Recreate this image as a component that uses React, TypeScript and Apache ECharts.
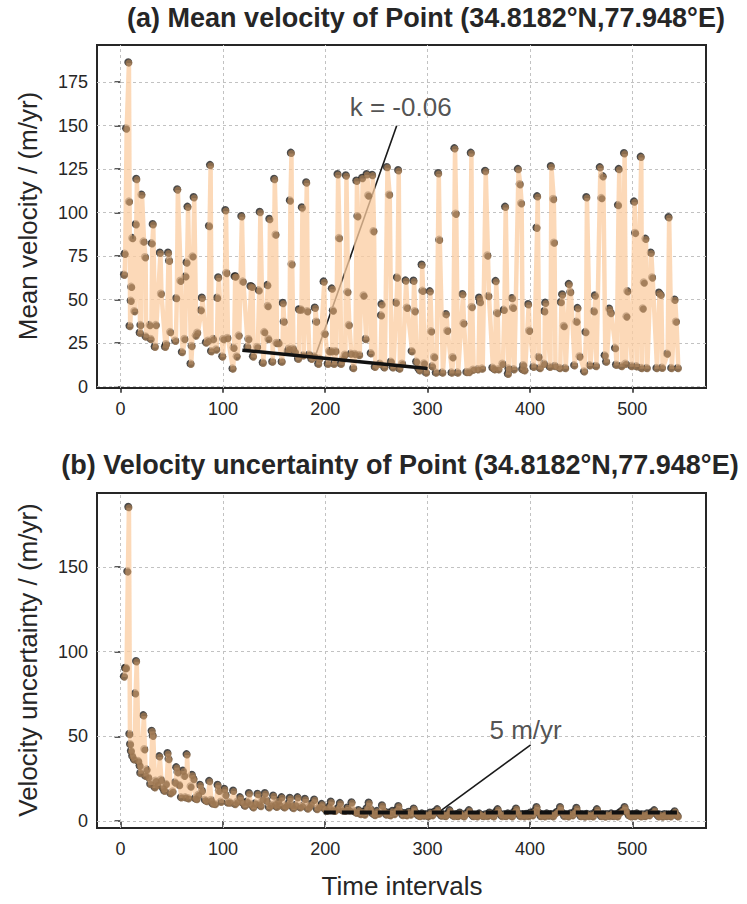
import React, { useEffect, useRef } from "react";
import * as echarts from "echarts";

// ---------- data ----------
const meanVelocity: number[][] = [
  [4,64],[4.6,76],[6,148],[8.2,186],[8.8,106],[9.4,34.5],[10.5,49],[11,57],[12,85],[14,43],[15.4,93],[16,119],[19.3,30.6],[20,35],[21,110],[23,83],[24.5,74],[25,28.5],[29,35],[30,27],[31,82],[32,93],[34,22.6],[35,35],[39,76.6],[40,53],[44,22.6],[45,24],[47,76.6],[48,72],[49,31],[54,26],[55,50.5],[56,113],[59,60.5],[60.5,19.5],[63,27],[64,63],[65,71],[66,103],[69,12.8],[70,23],[71,74.5],[72,108.5],[74,29],[75.5,30.6],[79,43.6],[80,50.7],[84,25],[86,26],[87,92],[88,127],[89,20],[91,27],[94,21],[95,50.7],[96,62.4],[100,17],[101,27],[103,101],[104,65],[105,27.6],[110,10],[111,22],[112,63],[113,63],[114,17],[116,29],[118.6,97.6],[120,60],[124.5,22.4],[125.5,27],[127.5,57.4],[129,57],[130,17],[134,22.4],[135.6,55],[136.6,100],[139.5,13.4],[141,31],[144,58],[144.4,46],[145,27],[146,96],
  [148.8,14],[150.7,119],[152,87],[152.8,24.7],[155,24.7],[158,14],[159,47.7],[160,37],[163.8,20],[165,21.4],[166,106.6],[167,134],[167.7,70],[169,21.4],[171,19.5],[174,15.7],[174.8,44],[176.8,44],[177.7,102.6],[179,17.6],[182,117],[183,43],[184.6,18],[187,15.7],[189.8,17],[190.4,45],[191.7,37],[193.7,12.8],[194.7,15.7],[199,60],[200,30],[203,12.8],[204.4,20],[206.7,20],[207,56],[208,43.4],[209,12.8],[210.6,20],[212.6,121.7],[214,85],[215.8,12.8],[218,15.7],[219.7,18],[220.7,121],[222.3,54],[223.6,35],[225.6,18.6],[227.9,10.3],[229.5,18.4],[231,118],[232,97.6],[233.7,17.8],[236.6,119.6],[238,52],[240,27],[241,121.7],[242.5,109.5],[245,18.8],[246.4,121.3],[247.7,89],[249,11],[254,12.8],[255,40.6],[255.6,47],[258.2,10.7],[260.8,125.8],[263,110],[264.7,14],[266.6,10.7],[269.6,48],[270.6,62.4],[271.8,124],[273,10],[275.7,12.8],[279,60.6],[280.3,45],[285,20],[286.8,60.5],[288,43],[289.4,14],[291.4,10.3],[292.7,9],[294.7,69.7],[295.6,54.7],[297,13],[299,7.7],
  [302.7,54.4],[304,31.4],[305,11.3],[307,16.7],[308.6,7.7],[310.9,122.3],[311.9,84],[315,7.7],[318.4,41.3],[319.7,31.8],[324,7.7],[325,16.5],[326.8,136.6],[328,99],[329.8,7.7],[334.6,52.8],[335.6,36],[338.5,8],[341,8],[342.8,134],[343.7,45.4],[345,9.4],[349.6,9.6],[350.9,50.7],[351.8,48.2],[353.8,10],[356.8,123.6],[359,75],[360,51.7],[363.9,10.5],[365.9,9.6],[367,60.3],[368.5,42],[369.8,9.6],[373.6,12.8],[375,43.8],[376.3,103],[379,7],[379.6,10],[383,50.5],[384,45],[384.8,9.6],[388.8,124.7],[390.6,116],[391.9,105],[393,9.6],[394,12],[395.2,9],[398.8,47],[399.8,31.8],[404,11],[407,91],[407.6,109],[409,16.7],[410.2,10.3],[414.2,12.8],[414.6,43],[415.5,47.8],[420,11],[421,126.3],[423.3,107.5],[424,82.4],[424.9,11.5],[429.6,10.3],[430.7,48.2],[432,52.6],[433.6,34.5],[435,10.3],[438.5,58.6],[440,54],[443.8,11.9],
  [446,37],[447,44.8],[449,17],[453.5,8.4],[454.8,31],[455.7,108.5],[459,11.9],[463,43],[464,52],[465,11.5],[468.8,125.7],[470.4,108],[471.7,120.5],[473.6,17.6],[475,14],[478,44.4],[479.5,42],[483.7,21.8],[484.7,12.2],[486.6,104],[487.3,124.7],[490,11.5],[492.5,133.8],[493.8,12.8],[494.8,40],[495.7,54.5],[499.7,11.5],[502.3,106],[503.3,88],[504.6,11.3],[508.8,131.7],[509.5,10.3],[510.8,44.6],[511.8,59.5],[513.4,84.6],[514.7,10.3],[518.6,76.6],[519.9,62.4],[524.2,10.3],[526.6,53.6],[528.3,52.4],[529.6,10.5],[534.5,18.6],[536,97],[538.6,10.3],[541.9,49.6],[543.2,37],[545,10.3]
];

const uncertainty: number[][] = [
  [3.9,85],[4.9,90],[5.9,90],[7.2,147],[8.2,185],[9.2,51],[9.9,45],[10.7,41],[12,38],[13.7,36],[14.8,75],[15.8,94],[17.9,35],[19.2,32.3],[19.9,28],[22.8,62],[23.8,42],[24.7,26.4],[26,30],[27.7,25.4],[29.6,21.5],[31,52.8],[32,50],[33.9,19.5],[34.8,23.4],[36.5,21],[38.4,37.8],[40,24],[42,19],[43.3,17.5],[44.9,21.5],[46.5,39.6],[47.5,36.2],[49.2,16],[51.4,17],[53.7,22.4],[55,31.3],[56.3,28.4],[57.9,20.9],[59.6,13.6],[61.5,29.3],[62.8,26.4],[63.8,13.6],[65.1,39],[66.7,13],[69,20],[70.3,26.8],[71.9,24.4],[73.2,13],[74.9,12.6],[76.5,15],[78.1,20.9],[80.1,17.5],[83,12],[84.6,11.4],[87.2,23.2],[88.9,12],[90.2,10],[92.8,9.6],[95.4,20.9],[96.7,17.5],[98.6,11],[101.9,18.5],[103.2,15],[105.1,10.6],[107.4,10.6],[110.6,17.5],[112.3,9.6],[114.5,11],[117.2,13.6],[119.4,10.6],[122,8.7],[124,11],[126,16],[127.3,9.6],[130.2,7.7],[132,10],[134.4,15.6],[135.8,9.6],[137.5,8.5],[139.3,12.6],[141.6,16],[143.2,11.6],[145.5,7.7],[147.5,9],[149.7,14.6],[151.4,9.6],[153,8],[154.6,11.6],[156,9],[157.9,13.6],[160.5,7.7],[162,8.5],[163.7,9.6],[166,13.2],[167.5,9],[169.3,7.3],[171.5,9],[173.5,13.6],[175.8,7.7],[178,8.5],[180.7,12.6],[183.3,7],[185,8],[186.5,9.6],[189.8,12.2],[192.4,6.7],[194.5,8],[197,9.6],[199.5,7],[201.8,5.7],[204,8],[206,11],[208,6],[210,5.7],[212.5,7],[214.9,10.2],[217,6],[219.7,5.7],[222,7.5],[224,6],[226.3,10.6],[228.5,5.5],
  [231,4.5],[233,6],[235,3.8],[237,5],[239,3.5],[241,7],[243,10.4],[245,6.5],[247,4],[249,3.2],[251,5.5],[253,4],[256,8.8],[258,5.5],[260,3.5],[262,4.5],[264,3],[266,5.5],[268,3.8],[270,6],[272,8.4],[274,5],[276,3.2],[278,4.2],[280,3],[282,5],[284,3.5],[287,6.9],[289,4.5],[291,3],[293,2.5],[295,4],[297,2.8],[299,3.5],[301,2.5],[303,4.5],[305,3],[307,5],[310,6.5],[312,4],[314,2.8],[316,3.5],[318,2.5],[320,4],[322,5.9],[324,3.5],[326,2.6],[328,3.4],[330,2.5],[332,4.5],[334,3],[336,2.4],[338,4],[341,5.9],[343,3.8],[345,2.5],[347,3.2],[349,2.4],[351,4],[353,3],[355,2.5],[357,3.5],[359,2.6],[361,4.5],[363,3],[365,2.4],[367,4.8],[369,6.5],[371,4],[373,2.6],[375,3.5],[377,2.5],[379,4],[381,3],[383,2.4],[385,5],[387,6.9],[389,4],[391,2.6],[393,3.6],[395,2.4],[397,3.8],[399,2.6],[401,4.5],[403,3],[405,5.5],[407,7.8],[409,4.5],[411,2.5],[413,3.4],[415,2.4],[417,4],[419,2.8],[421,3.6],[423,2.4],[425,4],[427,5],[430,7.8],[432,4.5],[434,2.6],[436,3.5],[438,2.4],[440,4],[442,3],[444,5],[446,7.3],[448,4.2],[450,2.5],[452,3.4],[454,2.3],[456,3.8],[458,2.6],[460,3.5],[462,2.4],[464,4.5],[466,6.5],[468,4],[470,2.5],[472,3.4],[474,2.3],[476,3.6],[478,2.6],[480,4],[482,2.5],[484,3.4],[486,2.4],[488,4.5],[490,5.5],[493,7.8],[495,5],[497,3],[499,2.4],[501,3.6],[503,2.5],[505,4],[507,3],[509,2.4],[511,3.5],[513,2.5],[515,4],[517,3],[519,4.5],[522,5.9],[524,3.8],[526,2.4],[528,3.3],[530,2.3],[532,3.6],[534,2.5],[536,3.2],[538,2.4],[540,3.8],[542,5.3],[544,3],[545,2.4]
];

const trendLine: number[][] = [[119, 21], [300, 10.5]];
const trendPointer: number[][] = [[191.2, 19.1], [269.8, 150]];
const trendLabelAt: number[] = [273.7, 161];
const trendLabel = "k = -0.06";

const thresholdLine: number[][] = [[198.6, 5], [543.6, 5]];
const thresholdPointer: number[][] = [[300.3, 0.5], [400.7, 45]];
const thresholdLabelAt: number[] = [395.7, 53.5];
const thresholdLabel = "5 m/yr";

const xTicks = [0, 100, 200, 300, 400, 500];
const yTicksA = [0, 25, 50, 75, 100, 125, 150, 175];
const yTicksB = [0, 50, 100, 150];

const titleA = "(a) Mean velocity of Point (34.8182°N,77.948°E)";
const titleB = "(b) Velocity uncertainty of Point (34.8182°N,77.948°E)";
const yNameA = "Mean velocity / (m/yr)";
const yNameB = "Velocity uncertainty / (m/yr)";
const xName = "Time intervals";

// ---------- styles ----------
const FONT = '"Liberation Sans", Arial, Helvetica, sans-serif';
const INK = "#262626";
const BAND = "#fbcca0";
const DOT = "#9b7650";
const GRIDC = "#c2c2c2";

function xAxisFor(i: number) {
  return {
    type: "value", gridIndex: i, min: -23, max: 572,
    axisLine: { show: false },
    axisTick: { show: true, length: 6, customValues: xTicks, lineStyle: { color: INK, width: 1.5 } },
    axisLabel: { customValues: xTicks, margin: 12, fontSize: 18, color: INK, fontFamily: FONT },
    splitLine: { show: false },
  };
}
function yAxisFor(i: number, min: number, max: number, ticks: number[]) {
  return {
    type: "value", gridIndex: i, min, max,
    axisLine: { show: false },
    axisTick: { show: true, length: 6, customValues: ticks, lineStyle: { color: INK, width: 1.5 } },
    axisLabel: { customValues: ticks, margin: 9, fontSize: 18, color: INK, fontFamily: FONT },
    splitLine: { show: false },
  };
}

function panelSeries(i: number, values: number[][], yTicks: number[]) {
  return [
    {
      type: "scatter", xAxisIndex: i, yAxisIndex: i, data: values, silent: true,
      symbol: "circle", symbolSize: 8, symbolOffset: [-0.7, -0.9],
      itemStyle: { color: "#1c1c1c" }, z: 2,
    },
    {
      type: "line", xAxisIndex: i, yAxisIndex: i, data: values, silent: true,
      symbol: "none", lineStyle: { color: BAND, width: 4.5, opacity: 0.75 }, z: 3,
      markLine: {
        silent: true, symbol: ["none", "none"], z: 1, animation: false,
        label: { show: false },
        lineStyle: { color: GRIDC, type: [3, 3], width: 1 },
        emphasis: { disabled: true },
        data: [
          ...xTicks.map((v) => ({ xAxis: v })),
          ...yTicks.map((v) => ({ yAxis: v })),
        ],
      },
    },
    {
      type: "scatter", xAxisIndex: i, yAxisIndex: i, data: values, silent: true,
      symbol: "circle", symbolSize: 7, itemStyle: { color: DOT }, z: 5,
    },
  ];
}

export default function App() {
  const ref = useRef<HTMLDivElement>(null);
  useEffect(() => {
    if (!ref.current) return;
    const chart = echarts.init(ref.current, null, { renderer: "svg" });
    const textStyle = (size: number, bold = false) => ({
      fontSize: size, fontFamily: FONT, fontWeight: bold ? "bold" : "normal", fill: INK,
    });
    const option: any = {
      animation: false,
      grid: [
        { left: 97, top: 45, width: 609, height: 343, show: true, borderColor: INK, borderWidth: 2, backgroundColor: "transparent", containLabel: false },
        { left: 97, top: 493, width: 609, height: 335, show: true, borderColor: INK, borderWidth: 2, backgroundColor: "transparent", containLabel: false },
      ],
      xAxis: [xAxisFor(0), xAxisFor(1)],
      yAxis: [yAxisFor(0, -0.75, 196.4, yTicksA), yAxisFor(1, -4.1, 193.7, yTicksB)],
      series: [
        ...panelSeries(0, meanVelocity, yTicksA),
        {
          type: "line", xAxisIndex: 0, yAxisIndex: 0, data: trendPointer, silent: true,
          symbol: "none", lineStyle: { color: "#1a1a1a", width: 1.6 }, z: 2,
        },
        {
          type: "line", xAxisIndex: 0, yAxisIndex: 0, data: trendLine, silent: true,
          symbol: "none", lineStyle: { color: "#111111", width: 3.5 }, z: 6,
        },
        {
          type: "scatter", xAxisIndex: 0, yAxisIndex: 0, data: [trendLabelAt], silent: true,
          symbolSize: 0, z: 7,
          label: { show: true, position: "inside", formatter: trendLabel, fontSize: 26, color: INK, fontFamily: FONT },
        },
        ...panelSeries(1, uncertainty, yTicksB),
        {
          type: "line", xAxisIndex: 1, yAxisIndex: 1, data: thresholdPointer, silent: true,
          symbol: "none", lineStyle: { color: "#1a1a1a", width: 1.6 }, z: 2,
        },
        {
          type: "line", xAxisIndex: 1, yAxisIndex: 1, data: thresholdLine, silent: true,
          symbol: "none", lineStyle: { color: "#111111", width: 4, type: [12, 6] }, z: 6,
        },
        {
          type: "scatter", xAxisIndex: 1, yAxisIndex: 1, data: [thresholdLabelAt], silent: true,
          symbolSize: 0, z: 7,
          label: { show: true, position: "inside", formatter: thresholdLabel, fontSize: 26, color: INK, fontFamily: FONT },
        },
      ],
      graphic: [
        { type: "text", x: 426, y: 18, style: { text: titleA, ...textStyle(27, true), align: "center", verticalAlign: "middle", textAlign: "center", textVerticalAlign: "middle" } },
        { type: "text", x: 400, y: 465, style: { text: titleB, ...textStyle(27, true), align: "center", verticalAlign: "middle", textAlign: "center", textVerticalAlign: "middle" } },
        { type: "text", x: 28, y: 216, rotation: Math.PI / 2, style: { text: yNameA, ...textStyle(26), align: "center", verticalAlign: "middle", textAlign: "center", textVerticalAlign: "middle" } },
        { type: "text", x: 28, y: 660, rotation: Math.PI / 2, style: { text: yNameB, ...textStyle(26), align: "center", verticalAlign: "middle", textAlign: "center", textVerticalAlign: "middle" } },
        { type: "text", x: 402, y: 886, style: { text: xName, ...textStyle(26), align: "center", verticalAlign: "middle", textAlign: "center", textVerticalAlign: "middle" } },
      ],
    };
    chart.setOption(option);
    return () => chart.dispose();
  }, []);
  return (
    <div
      ref={ref}
      style={{ position: "fixed", left: 0, top: 0, width: 747, height: 904, background: "#ffffff" }}
    />
  );
}
